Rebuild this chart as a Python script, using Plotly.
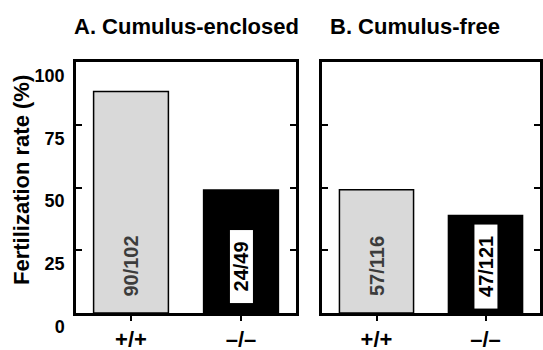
import plotly.graph_objects as go

categories = ["+/+", "–/–"]
enclosed_rate = [88.2, 49.0]
free_rate = [49.1, 38.8]
enclosed_counts = ["90/102", "24/49"]
free_counts = ["57/116", "47/121"]
panel_titles = ["A. Cumulus-enclosed", "B. Cumulus-free"]
y_ticks = [0, 25, 50, 75, 100]
y_title = "Fertilization rate (%)"

FONT = "Liberation Sans, Arial, Helvetica, sans-serif"
bar_colors = ["#d9d9d9", "#000000"]
W, H = 543, 350

fig = go.Figure()
fig.add_trace(go.Bar(x=categories, y=enclosed_rate, xaxis="x", yaxis="y",
                     marker=dict(color=bar_colors, line=dict(color="#000", width=1.5)),
                     width=0.68, hoverinfo="skip"))
fig.add_trace(go.Bar(x=categories, y=free_rate, xaxis="x2", yaxis="y2",
                     marker=dict(color=bar_colors, line=dict(color="#000", width=1.5)),
                     width=0.68, hoverinfo="skip"))

ann = []
label_y = 18.5
for xr, yr, counts in (("x", "y", enclosed_counts), ("x2", "y2", free_counts)):
    for i, (cat, txt) in enumerate(zip(categories, counts)):
        if i == 0:
            ann.append(dict(x=cat, y=label_y, xref=xr, yref=yr, text="<b>%s</b>" % txt,
                            textangle=-90, showarrow=False,
                            font=dict(family=FONT, size=20, color="#3c3c3c")))
        else:
            ann.append(dict(x=cat, y=label_y, xref=xr, yref=yr,
                            text="<b>\u00a0\u00a0%s\u00a0\u00a0</b>" % txt,
                            textangle=-90, showarrow=False, bgcolor="#ffffff",
                            borderpad=0,
                            font=dict(family=FONT, size=20, color="#000")))

common_ann = dict(xref="paper", yref="paper", showarrow=False,
                  xanchor="center", yanchor="middle")
ann.append(dict(x=186 / W, y=1 - 26 / H, text="<b>%s</b>" % panel_titles[0],
                font=dict(family=FONT, size=22, color="#000"), **common_ann))
ann.append(dict(x=415 / W, y=1 - 26 / H, text="<b>%s</b>" % panel_titles[1],
                font=dict(family=FONT, size=22, color="#000"), **common_ann))
ann.append(dict(x=22 / W, y=1 - 180 / H, text="<b>%s</b>" % y_title, textangle=-90,
                font=dict(family=FONT, size=22, color="#000"), **common_ann))

xcommon = dict(showline=True, linewidth=2.5, linecolor="#000", mirror=True,
               ticks="outside", ticklen=5, tickwidth=2, tickcolor="#000",
               range=[-0.5, 1.5], showgrid=False, zeroline=False, automargin=False,
               tickfont=dict(family=FONT, size=22, color="#000", weight="bold"))
ycommon = dict(showline=True, linewidth=2.5, linecolor="#000", mirror="ticks",
               ticks="inside", ticklen=6, tickwidth=2, tickcolor="#000",
               range=[0, 100], tickvals=y_ticks, showgrid=False, zeroline=False,
               automargin=False,
               tickfont=dict(family=FONT, size=18, color="#000", weight="bold"))

ydom = [1 - 313 / H, 1 - 62 / H]
fig.update_layout(
    width=W, height=H, margin=dict(l=0, r=0, t=0, b=0, autoexpand=False),
    paper_bgcolor="#fff", plot_bgcolor="#fff", showlegend=False,
    xaxis=dict(domain=[76 / W, 296 / W], anchor="y", **xcommon),
    xaxis2=dict(domain=[322 / W, 540 / W], anchor="y2", **xcommon),
    yaxis=dict(domain=ydom, anchor="x", showticklabels=True,
               ticklabelposition="outside bottom", ticklabelstandoff=5, **ycommon),
    yaxis2=dict(domain=ydom, anchor="x2", showticklabels=False, **ycommon),
    annotations=ann,
)
fig.write_html("out.html", config={"displayModeBar": False},
               post_script="document.body.style.margin='0';document.body.style.overflow='hidden';")
